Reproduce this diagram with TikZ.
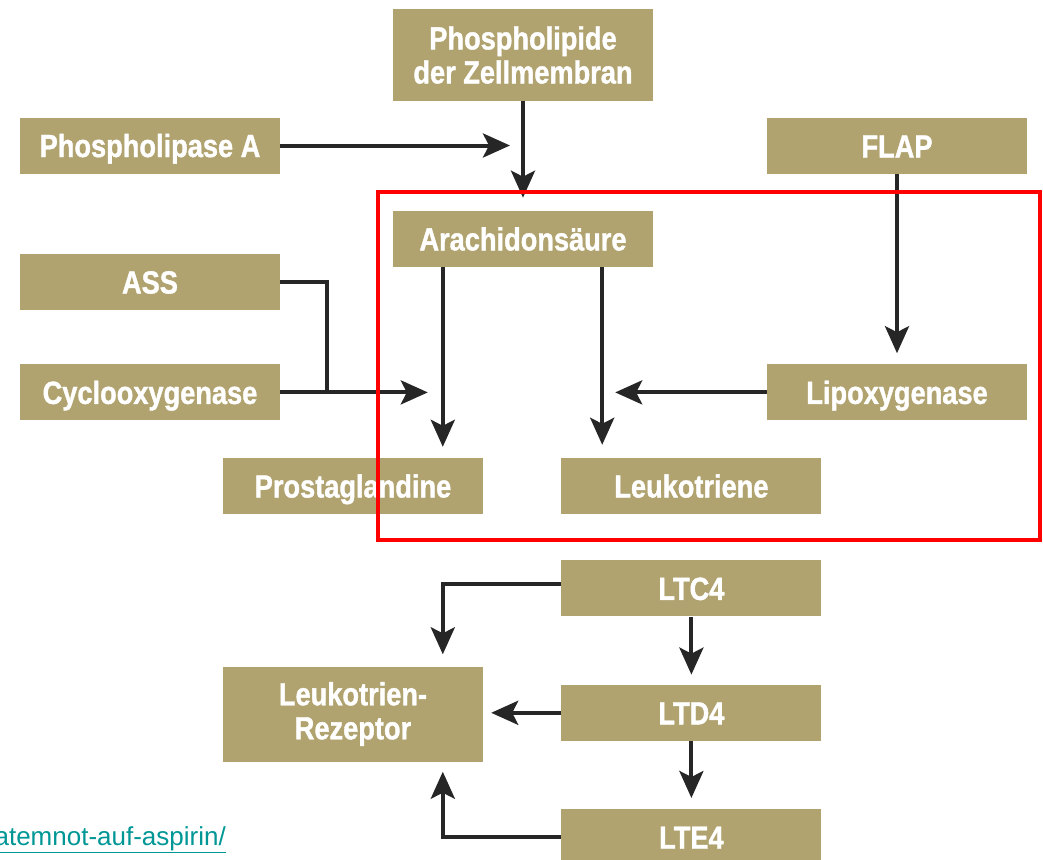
\documentclass[tikz,border=0pt]{standalone}
\usepackage{fontspec}
\setmainfont{Liberation Sans}
\newfontfamily\boxfont[FakeStretch=0.85, BoldFeatures={FakeBold=1.2}]{Liberation Sans}
\usepackage{tikz}
\usetikzlibrary{arrows.meta, positioning, calc}

\definecolor{khaki}{RGB}{176,163,111}
\definecolor{arrowgray}{RGB}{38,38,38}
\definecolor{linkteal}{RGB}{0,150,150}

\begin{document}
\begin{tikzpicture}[
        x=1pt, y=-1pt,
        node distance=46pt,
        stepbox/.style={
            rectangle,
            minimum width=260pt,
            minimum height=56pt,
            inner sep=0pt,
            align=center,
            text=white,
            fill=khaki,
            font=\boxfont\bfseries\fontsize{32}{34}\selectfont
        },
        onebox/.style={
            stepbox,
            text height=23pt,
            text depth=0pt
        },
        link/.style={
            line width=4pt,
            draw=arrowgray
        },
        arrow/.style={
            link,
            -{Stealth[length=27pt, width=24pt, inset=6pt]}
        }
    ]
        \useasboundingbox (0,0) rectangle (1043,859);
        \clip (0,0) rectangle (1043,859);

        % upper part
        \node (phospho) [stepbox, minimum height=91pt] at (523,55) {Phospholipide\\der Zellmembran};
        \node (arach) [onebox, below=110pt of phospho] {Arachidonsäure};
        \node (plase) [onebox] at (150,145.5) {Phospholipase A};
        \node (flap) [onebox] at (897,146) {FLAP};
        \node (ass) [onebox] at (150,282) {ASS};
        \node (cyclo) [onebox, below=54pt of ass] {Cyclooxygenase};
        \node (lipo) [onebox, below=190pt of flap] {Lipoxygenase};
        \node (prosta) [onebox] at (353,486) {Prostaglandine};
        \node (leuko) [onebox, right=78pt of prosta] {Leukotriene};

        % lower part
        \node (ltc4) [onebox, below=46pt of leuko] {LTC4};
        \node (ltd4) [onebox, below=68pt of ltc4] {LTD4};
        \node (lte4) [onebox, below=68pt of ltd4] {LTE4};
        \node (rezeptor) [stepbox, minimum height=95pt] at (353,714) {Leukotrien-\\Rezeptor};

        \coordinate (al) at ([xshift=50pt]arach.south west);
        \coordinate (ar) at ([xshift=-51pt]arach.south east);
        \coordinate (join) at ([xshift=47pt]cyclo.east);

        \draw [arrow, shorten >=13pt] (plase) -- (plase -| phospho);
        \draw [arrow, shorten >=13pt] (phospho) -- (arach);
        \draw [arrow, shorten >=11pt] (flap) -- (lipo);
        \draw [link] (ass.east) -| (join);
        \draw [arrow, shorten >=15pt] (cyclo.east) -- (cyclo -| al);
        \draw [arrow, shorten >=11pt] (al) -- (al |- prosta.north);
        \draw [arrow, shorten >=13pt] (ar) -- (ar |- leuko.north);
        \draw [arrow, shorten >=13pt] (lipo.west) -- (lipo -| ar);

        \draw [arrow, shorten >=12pt] ([yshift=4pt]ltc4.west) -| (al |- rezeptor.north);
        \draw [arrow, shorten >=10pt] (ltc4) -- (ltd4);
        \draw [arrow, shorten >=8pt] (ltd4.west) -- (ltd4.west -| rezeptor.east);
        \draw [arrow, shorten >=11pt] (ltd4) -- (lte4);
        \draw [arrow, shorten >=10pt] (lte4.west) -| (al |- rezeptor.south);

        % highlight
        \draw [red, line width=4.5pt] (378,192) rectangle (1040,540);

        % source link
        \node (source) [anchor=base east, inner sep=0pt, text=linkteal, font=\fontsize{26}{30}\selectfont] at (226,845) {\underline{atemnot-auf-aspirin/}};
    \end{tikzpicture}
\end{document}
